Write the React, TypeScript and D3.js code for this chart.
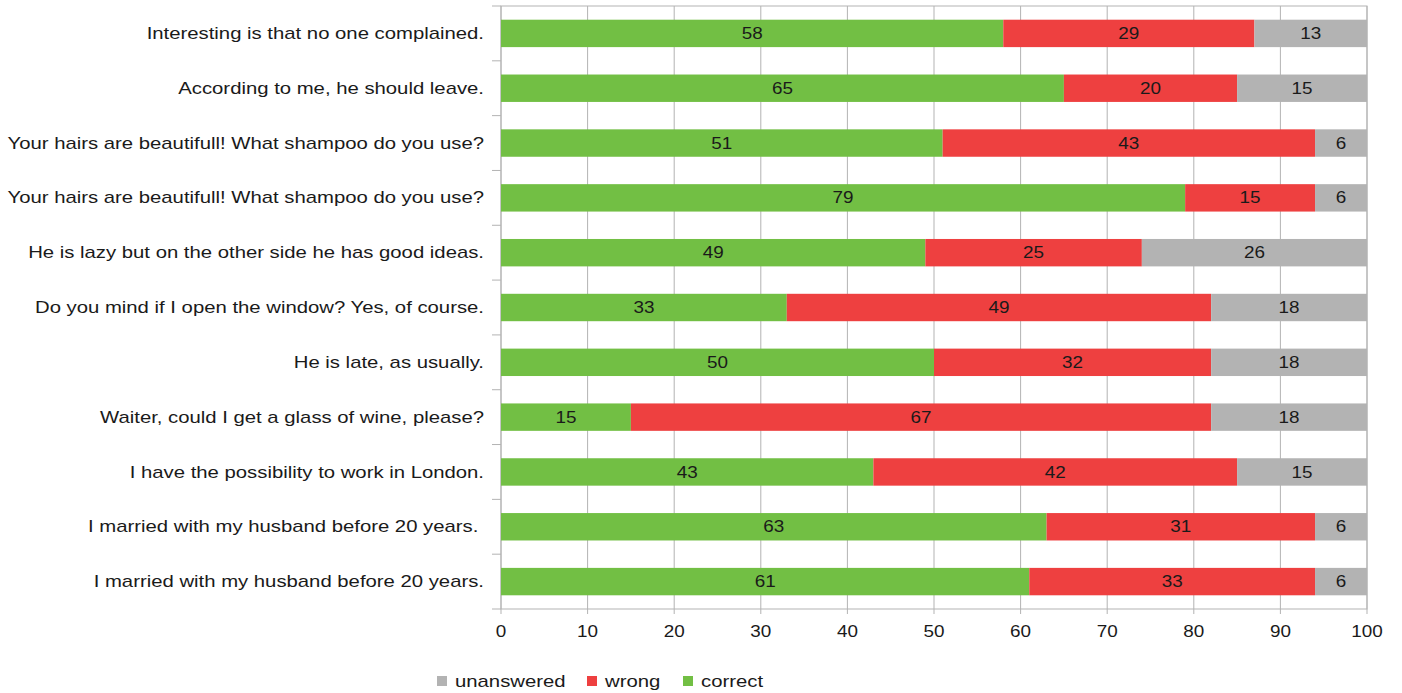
import React from "react";
import * as d3 from "d3";

const questions = [
  "Interesting is that no one complained.",
  "According to me, he should leave.",
  "Your hairs are beautifull! What shampoo do you use?",
  "Your hairs are beautifull! What shampoo do you use?",
  "He is lazy but on the other side he has good ideas.",
  "Do you mind if I open the window? Yes, of course.",
  "He is late, as usually.",
  "Waiter, could I get a glass of wine, please?",
  "I have the possibility to work in London.",
  "I married with my husband before 20 years. ",
  "I married with my husband before 20 years.",
];
const correct = [58, 65, 51, 79, 49, 33, 50, 15, 43, 63, 61];
const wrong = [29, 20, 43, 15, 25, 49, 32, 67, 42, 31, 33];
const unanswered = [13, 15, 6, 6, 26, 18, 18, 18, 15, 6, 6];
const xTicks = [0, 10, 20, 30, 40, 50, 60, 70, 80, 90, 100];

const seriesKeys = ["correct", "wrong", "unanswered"] as const;
const colors: Record<string, string> = {
  correct: "#72bf44",
  wrong: "#ee4040",
  unanswered: "#b3b3b3",
};

const W = 1402;
const H = 693;
const left = 501;
const right = 1367;
const top = 6;
const bottom = 609;
const FONT = "'Liberation Sans', Arial, sans-serif";

// Text rendered with a horizontal stretch, anchored at (x, y)
function SText(props: {
  x: number;
  y: number;
  anchor?: "start" | "middle" | "end";
  size?: number;
  stretch?: number;
  children: React.ReactNode;
}) {
  const { x, y, anchor = "start", size = 16, stretch = 1.27, children } = props;
  return (
    <g transform={`translate(${x},${y}) scale(${stretch},1)`}>
      <text
        x={0}
        y={0}
        dy="0.35em"
        textAnchor={anchor}
        fontSize={size}
        fill="#1a1a1a"
        style={{ whiteSpace: "pre" }}
      >
        {children}
      </text>
    </g>
  );
}

export default function App() {
  const rows = questions.map((q, i) => ({
    q: i,
    correct: correct[i],
    wrong: wrong[i],
    unanswered: unanswered[i],
  }));
  const stack = d3.stack<any>().keys(seriesKeys as any)(rows);
  const x = d3.scaleLinear().domain([0, 100]).range([left, right]);
  const y = d3
    .scaleBand<number>()
    .domain(d3.range(questions.length))
    .range([top, bottom])
    .paddingInner(0.5)
    .paddingOuter(0.25);
  const band = (bottom - top) / questions.length;

  const legendItems = [
    { key: "unanswered", x: 437 },
    { key: "wrong", x: 587 },
    { key: "correct", x: 683 },
  ];

  return (
    <svg
      width={W}
      height={H}
      style={{ position: "absolute", left: 0, top: 0, background: "#fff" }}
      fontFamily={FONT}
    >
      {/* vertical grid */}
      {xTicks.map((t) => (
        <line
          key={"g" + t}
          x1={x(t)}
          x2={x(t)}
          y1={top}
          y2={bottom + 5}
          stroke="#b3b3b3"
          strokeWidth={1}
        />
      ))}
      {/* frame */}
      <rect
        x={left}
        y={top}
        width={right - left}
        height={bottom - top}
        fill="none"
        stroke="#b3b3b3"
        strokeWidth={1}
      />
      {/* row separators on the category axis */}
      {d3.range(questions.length + 1).map((i) => (
        <line
          key={"rt" + i}
          x1={left - 9}
          x2={left}
          y1={top + i * band}
          y2={top + i * band}
          stroke="#b3b3b3"
        />
      ))}
      {/* bars */}
      {stack.map((s) => (
        <g key={s.key} fill={colors[s.key]}>
          {s.map((d, i) => (
            <rect
              key={i}
              x={x(d[0])}
              y={y(i)}
              width={x(d[1]) - x(d[0])}
              height={y.bandwidth()}
            />
          ))}
        </g>
      ))}
      {/* value labels */}
      {stack.map((s) => (
        <g key={"l" + s.key}>
          {s.map((d, i) => (
            <SText
              key={i}
              x={(x(d[0]) + x(d[1])) / 2}
              y={(y(i) as number) + y.bandwidth() / 2}
              anchor="middle"
              stretch={1.18}
            >
              {d[1] - d[0]}
            </SText>
          ))}
        </g>
      ))}
      {/* category labels */}
      {questions.map((q, i) => (
        <SText
          key={"q" + i}
          x={484}
          y={(y(i) as number) + y.bandwidth() / 2}
          anchor="end"
        >
          {q}
        </SText>
      ))}
      {/* x tick labels */}
      {xTicks.map((t) => (
        <SText key={"t" + t} x={x(t)} y={631} anchor="middle" stretch={1.18}>
          {t}
        </SText>
      ))}
      {/* legend */}
      {legendItems.map((it) => (
        <g key={it.key}>
          <rect x={it.x} y={676} width={10} height={10} fill={colors[it.key]} />
          <SText x={it.x + 18} y={681}>
            {it.key}
          </SText>
        </g>
      ))}
    </svg>
  );
}
